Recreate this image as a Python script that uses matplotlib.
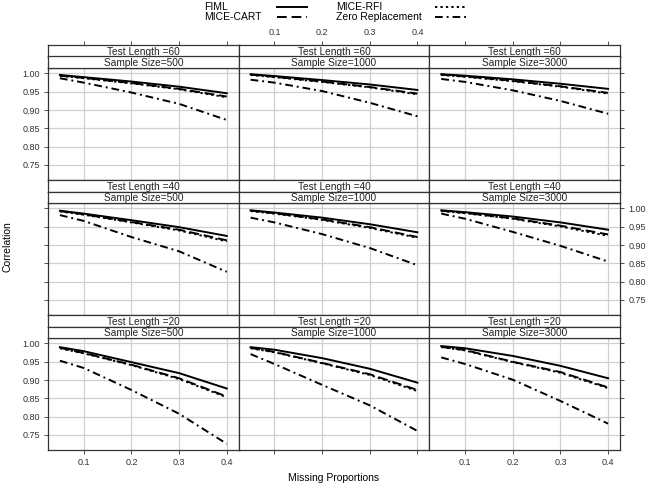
import matplotlib.pyplot as plt
from matplotlib.lines import Line2D

plt.rcParams['font.family'] = ['Liberation Sans', 'DejaVu Sans']

# missing proportions on the x axis
props = [0.05, 0.1, 0.2, 0.3, 0.4]
test_lengths = [60, 40, 20]
sample_sizes = [500, 1000, 3000]
methods = ['FIML', 'MICE-CART', 'MICE-RFI', 'Zero Replacement']

# correlation per test length, one row per sample size (500, 1000, 3000)
fiml_60 = [[0.996, 0.990, 0.978, 0.964, 0.946],
           [0.998, 0.993, 0.982, 0.970, 0.955],
           [0.998, 0.994, 0.984, 0.972, 0.958]]
cart_60 = [[0.994, 0.988, 0.974, 0.958, 0.937],
           [0.997, 0.991, 0.978, 0.963, 0.945],
           [0.997, 0.992, 0.980, 0.965, 0.947]]
rfi_60 = [[0.994, 0.987, 0.973, 0.957, 0.935],
          [0.996, 0.990, 0.977, 0.962, 0.943],
          [0.996, 0.991, 0.979, 0.964, 0.945]]
zero_60 = [[0.987, 0.975, 0.948, 0.917, 0.873],
           [0.983, 0.975, 0.952, 0.920, 0.883],
           [0.985, 0.977, 0.954, 0.925, 0.890]]

fiml_40 = [[0.994, 0.986, 0.968, 0.949, 0.925],
           [0.995, 0.989, 0.975, 0.957, 0.935],
           [0.995, 0.990, 0.978, 0.962, 0.942]]
cart_40 = [[0.993, 0.984, 0.963, 0.942, 0.913],
           [0.994, 0.987, 0.970, 0.949, 0.922],
           [0.994, 0.988, 0.973, 0.953, 0.929]]
rfi_40 = [[0.992, 0.983, 0.962, 0.940, 0.910],
          [0.993, 0.986, 0.969, 0.947, 0.920],
          [0.993, 0.987, 0.972, 0.951, 0.925]]
zero_40 = [[0.982, 0.966, 0.922, 0.883, 0.827],
           [0.975, 0.962, 0.930, 0.892, 0.845],
           [0.986, 0.972, 0.936, 0.898, 0.855]]

fiml_20 = [[0.990, 0.979, 0.949, 0.919, 0.877],
           [0.990, 0.983, 0.960, 0.931, 0.893],
           [0.993, 0.987, 0.966, 0.939, 0.905]]
cart_20 = [[0.988, 0.974, 0.942, 0.905, 0.855],
           [0.988, 0.977, 0.947, 0.916, 0.873],
           [0.991, 0.982, 0.950, 0.922, 0.880]]
rfi_20 = [[0.987, 0.973, 0.941, 0.903, 0.853],
          [0.987, 0.976, 0.946, 0.914, 0.870],
          [0.990, 0.981, 0.949, 0.920, 0.878]]
zero_20 = [[0.953, 0.933, 0.873, 0.808, 0.726],
           [0.971, 0.944, 0.887, 0.831, 0.761],
           [0.962, 0.944, 0.901, 0.843, 0.781]]

series = {60: [fiml_60, cart_60, rfi_60, zero_60],
          40: [fiml_40, cart_40, rfi_40, zero_40],
          20: [fiml_20, cart_20, rfi_20, zero_20]}

styles = ['-', (0, (5, 2.5)), (0, (1.2, 1.6)), (0, (4, 2, 1, 2))]
xticks = [0.1, 0.2, 0.3, 0.4]
yticks = [0.75, 0.80, 0.85, 0.90, 0.95, 1.00]
xlim = (0.025, 0.425)
ylim = (0.709, 1.015)

W, H = 650, 487
fig = plt.figure(figsize=(W / 100, H / 100), dpi=100)


def fx(px):
    return px / W


def fy(py):
    return 1 - py / H


frame = '#333333'
left0, colw = 48, 572 / 3
row_top, rowh, striph = 45, 135.0, 11.5

for r, tl in enumerate(test_lengths):
    top = row_top + r * rowh
    plot_top = top + 2 * striph
    plot_bot = top + rowh
    for c, n in enumerate(sample_sizes):
        left = left0 + c * colw
        ax = fig.add_axes([fx(left), fy(plot_bot), colw / W, (plot_bot - plot_top) / H])
        for data, ls in zip(series[tl], styles):
            ax.plot(props, data[c], color='black', lw=1.4, linestyle=ls)
        ax.set_xlim(xlim)
        ax.set_ylim(ylim)
        ax.set_xticks(xticks)
        ax.set_yticks(yticks)
        ax.set_xticklabels(['0.1', '0.2', '0.3', '0.4'])
        ax.set_yticklabels(['%.2f' % v for v in yticks])
        ax.grid(color='#d0d0d0', lw=0.9)
        ax.set_axisbelow(True)
        for s in ax.spines.values():
            s.set_color(frame)
            s.set_linewidth(0.9)
        ax.tick_params(direction='out', length=3, width=0.6, color=frame,
                       labelsize=6.5, labelcolor='#333333', pad=3,
                       bottom=(r == 2), labelbottom=(r == 2 and c != 1),
                       top=False, labeltop=False,
                       left=(c == 0), labelleft=(c == 0 and r != 1),
                       right=(c == 2), labelright=(c == 2 and r == 1))

        # strips: test length on top, sample size below
        for k, label in enumerate(['Test Length =%d' % tl, 'Sample Size=%d' % n]):
            sa = fig.add_axes([fx(left), fy(top + (k + 1) * striph), colw / W, striph / H])
            sa.set_xlim(xlim)
            sa.set_yticks([])
            sa.text(0.5, 0.17, label, transform=sa.transAxes, ha='center',
                    va='baseline', fontsize=7.3, color='#222222')
            for s in sa.spines.values():
                s.set_color(frame)
                s.set_linewidth(0.9)
            if r == 0 and k == 0:
                sa.set_xticks(xticks)
                sa.set_xticklabels(['0.1', '0.2', '0.3', '0.4'])
                sa.tick_params(direction='out', length=3, width=0.6, color=frame,
                               labelsize=6.5, labelcolor='#333333', pad=3,
                               top=True, labeltop=(c == 1),
                               bottom=False, labelbottom=False)
            else:
                sa.set_xticks([])

# key at the top
key_rows = [(7, 0), (17, 1), (7, 2), (17, 3)]
for py, i in key_rows:
    tx = 204 if i < 2 else 336
    lx = (277, 307) if i < 2 else (435, 466)
    fig.text(fx(tx), fy(py), methods[i], fontsize=7.5, va='center', ha='left')
    fig.add_artist(Line2D([fx(lx[0]), fx(lx[1])], [fy(py), fy(py)],
                          color='black', lw=1.4, linestyle=styles[i]))

fig.text(fx(334), fy(478), 'Missing Proportions', fontsize=7.5, ha='center', va='center')
fig.text(fx(8), fy(247), 'Correlation', fontsize=7.5, ha='center', va='center',
         rotation=90)

fig.savefig('out.png', dpi=100)
